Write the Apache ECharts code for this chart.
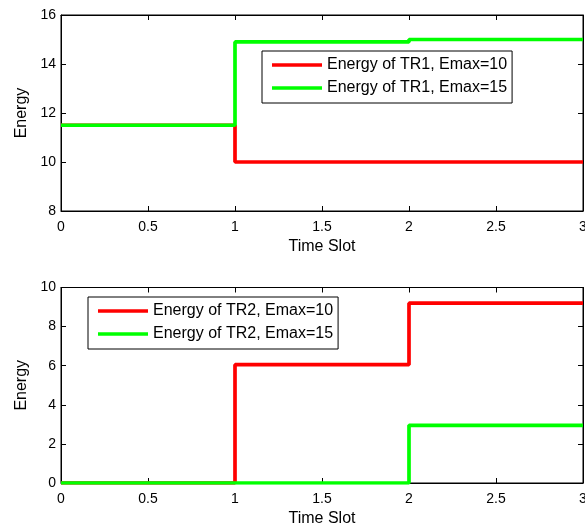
<!DOCTYPE html>
<html>
<head>
<meta charset="utf-8">
<script src="https://cdn.jsdelivr.net/npm/echarts@6/dist/echarts.min.js"></script>
<style>
  html, body { margin: 0; padding: 0; background: #fff; overflow: hidden; }
  #chart { width: 585px; height: 529px; }
</style>
</head>
<body>
<div id="chart"></div>
<script>
// Time slots (x) and energy levels of each transmitter
const timeSlots = [0, 1, 2, 3];
const tr1Emax10 = [11.5, 10, 10, 10];
const tr1Emax15 = [11.5, 14.9, 15, 15];
const tr2Emax10 = [0, 6.05, 9.2, 9.2];
const tr2Emax15 = [0, 0, 2.95, 2.95];

const xTicks = [0, 0.5, 1, 1.5, 2, 2.5, 3];
const yTicksTop = [8, 10, 12, 14, 16];
const yTicksBottom = [0, 2, 4, 6, 8, 10];

const FONT = 'Liberation Sans, Arial, sans-serif';
const RED = '#ff0000';
const GREEN = '#00ff00';

const pairs = (xs, ys) => xs.map((x, i) => [x, ys[i]]);

function xAxisFor(gridIndex, primary) {
  return {
    type: 'value', gridIndex,
    position: primary ? 'bottom' : 'top',
    min: xTicks[0], max: xTicks[xTicks.length - 1], interval: 0.5,
    name: primary ? 'Time Slot' : '',
    nameLocation: 'middle', nameGap: 28,
    nameTextStyle: { color: '#000', fontFamily: FONT, fontSize: 16 },
    axisLine: { show: true, onZero: false, lineStyle: { color: '#000', width: 1 } },
    axisTick: { show: true, inside: true, length: 5, lineStyle: { color: '#000' } },
    axisLabel: { show: primary, color: '#000', fontFamily: FONT, fontSize: 14, margin: 9,
                 formatter: v => String(v) },
    splitLine: { show: false }
  };
}

function yAxisFor(gridIndex, primary, ticks) {
  return {
    type: 'value', gridIndex,
    position: primary ? 'left' : 'right',
    min: ticks[0], max: ticks[ticks.length - 1], interval: 2,
    name: primary ? 'Energy' : '',
    nameLocation: 'middle', nameGap: 31,
    nameTextStyle: { color: '#000', fontFamily: FONT, fontSize: 16 },
    axisLine: { show: true, onZero: false, lineStyle: { color: '#000', width: 1 } },
    axisTick: { show: true, inside: true, length: 5, lineStyle: { color: '#000' } },
    axisLabel: { show: primary, color: '#000', fontFamily: FONT, fontSize: 14, margin: 5 },
    splitLine: { show: false }
  };
}

function stairs(name, data, color, xi, yi) {
  return {
    name, type: 'line', step: 'end',
    xAxisIndex: xi, yAxisIndex: yi,
    data: pairs(timeSlots, data),
    showSymbol: false, symbol: 'none',
    lineStyle: { color, width: 3.7 },
    itemStyle: { color },
    emphasis: { disabled: true },
    animation: false
  };
}

function legendBox(names, left, top) {
  return {
    data: names, orient: 'vertical', left, top,
    backgroundColor: '#fff', borderColor: '#000', borderWidth: 1,
    padding: [6, 5, 7, 10], itemGap: 7,
    icon: 'rect', itemWidth: 50, itemHeight: 3.7,
    textStyle: { color: '#000', fontFamily: FONT, fontSize: 16, lineHeight: 16 },
    selectedMode: false
  };
}

const chart = echarts.init(document.getElementById('chart'), null, { renderer: 'canvas' });
chart.setOption({
  backgroundColor: '#fff',
  animation: false,
  grid: [
    { left: 61, top: 15, right: 2, height: 196, show: true, borderColor: '#000', borderWidth: 1,
      containLabel: false, outerBoundsMode: 'none' },
    { left: 61, top: 287.5, right: 2, height: 195.5, show: true, borderColor: '#000', borderWidth: 1,
      containLabel: false, outerBoundsMode: 'none' }
  ],
  xAxis: [xAxisFor(0, true), xAxisFor(0, false), xAxisFor(1, true), xAxisFor(1, false)],
  yAxis: [yAxisFor(0, true, yTicksTop), yAxisFor(0, false, yTicksTop),
          yAxisFor(1, true, yTicksBottom), yAxisFor(1, false, yTicksBottom)],
  legend: [
    legendBox(['Energy of TR1, Emax=10', 'Energy of TR1, Emax=15'], 262, 51),
    legendBox(['Energy of TR2, Emax=10', 'Energy of TR2, Emax=15'], 88, 297)
  ],
  series: [
    stairs('Energy of TR1, Emax=10', tr1Emax10, RED, 0, 0),
    stairs('Energy of TR1, Emax=15', tr1Emax15, GREEN, 0, 0),
    stairs('Energy of TR2, Emax=10', tr2Emax10, RED, 2, 2),
    stairs('Energy of TR2, Emax=15', tr2Emax15, GREEN, 2, 2)
  ]
});
</script>
</body>
</html>
